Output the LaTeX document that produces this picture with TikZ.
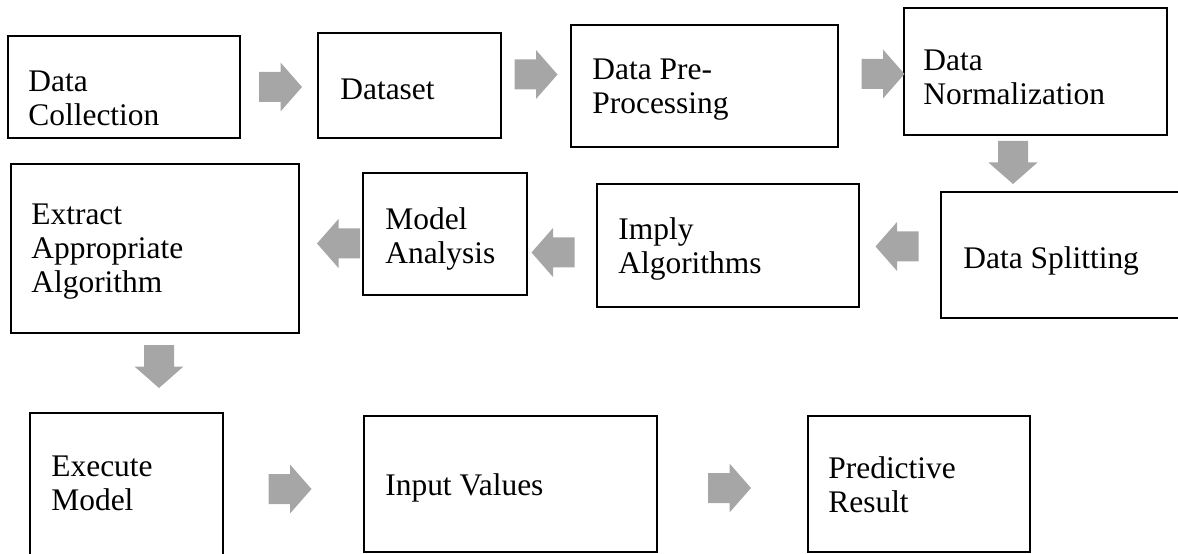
\documentclass[tikz,border=0pt]{standalone}
\usepackage{fontspec}
\setmainfont{Liberation Serif}
\usetikzlibrary{fit}
\definecolor{arrowgray}{RGB}{166,166,166}
\tikzset{
  box/.style={draw, line width=1.1pt, inner sep=0pt},
  txt/.style={anchor=north west, inner sep=0pt, align=left,
    font=\fontsize{17.9pt}{19.35pt}\selectfont},
  garrow/.pic={\fill[arrowgray] (-21.5,-15) -- (0,-15) -- (0,-24.5)
    -- (21.5,0) -- (0,24.5) -- (0,15) -- (-21.5,15) -- cycle;}
}
\begin{document}
\begin{tikzpicture}[x=0.02cm, y=-0.02cm]
  \clip (0,0) rectangle (1178,554);
  % --- first row ---
  \node[box, fit={(8,36) (240,138)}] (coll) {};
  \node[txt] (collt) at (28,71) {Data\\Collection};
  \node[box, fit={(318,33) (501,138)}] (dset) {};
  \node[txt] (dsett) at (340,79) {Dataset};
  \node[box, fit={(571,25) (838,147)}] (prep) {};
  \node[txt] (prept) at (592,59) {Data Pre-\\Processing};
  \node[box, fit={(904,8) (1167,135)}] (norm) {};
  \node[txt] (normt) at (923,49.5) {Data\\Normalization};
  % --- second row ---
  \node[box, fit={(941,192) (1190,318)}] (split) {};
  \node[txt] (splitt) at (963,246) {Data Splitting};
  \node[box, fit={(597,184) (859,307)}] (imply) {};
  \node[txt] (implyt) at (618,217.5) {Imply\\Algorithms};
  \node[box, fit={(363,173) (527,295)}] (anal) {};
  \node[txt] (analt) at (385,207.5) {Model\\Analysis};
  \node[box, fit={(11,164) (299,333)}] (extr) {};
  \node[txt] (extrt) at (31,204) {Extract\\Appropriate\\Algorithm};
  % --- third row ---
  \node[box, fit={(30,413) (223,570)}] (exec) {};
  \node[txt] (exect) at (51,455.5) {Execute\\Model};
  \node[box, fit={(364,416) (657,552)}] (inval) {};
  \node[txt] (invalt) at (385,473) {Input Values};
  \node[box, fit={(808,416) (1030,552)}] (pred) {};
  \node[txt] (predt) at (828,456) {Predictive\\Result};
  % block arrows
  \foreach \x/\y/\a in {280.5/87/0, 536/74.5/0, 883/74/0, 1013/162.5/-90,
    897/246.5/180, 553/252.5/180, 338.5/243.5/180, 159/366.5/-90,
    290/489/0, 729.5/488/0}{
    \pic[rotate=\a] at (\x,\y) {garrow};
  }
\end{tikzpicture}
\end{document}
